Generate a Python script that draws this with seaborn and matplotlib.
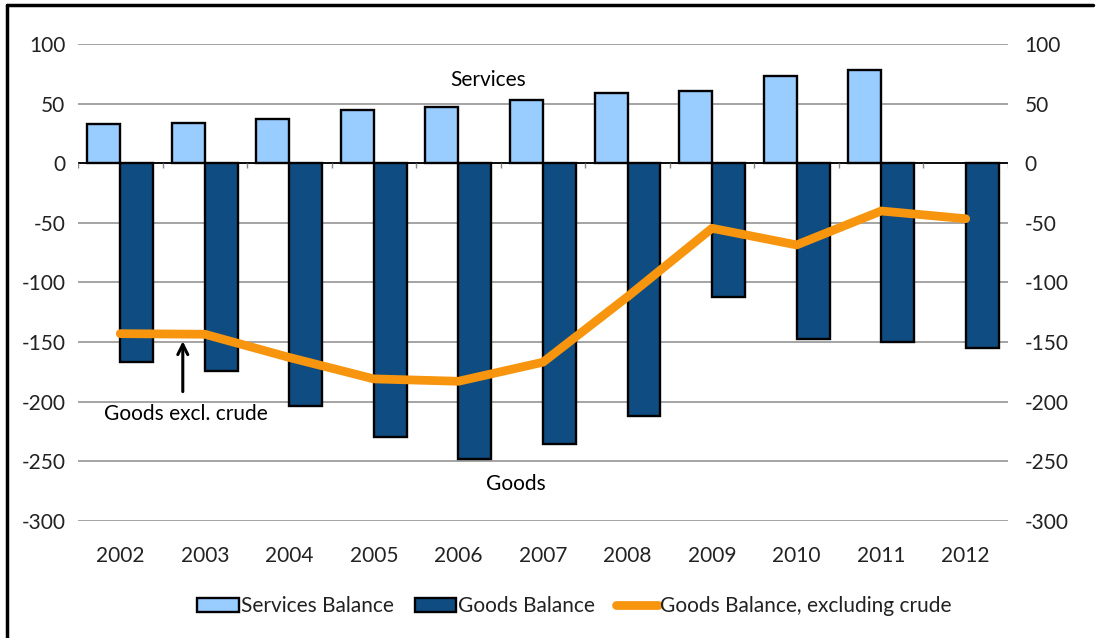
import numpy as np
import pandas as pd
import matplotlib
matplotlib.use("Agg")
import matplotlib.pyplot as plt
from matplotlib.patches import Patch
from matplotlib.lines import Line2D
import seaborn as sns

# data (USD bn)
years = ['2002', '2003', '2004', '2005', '2006', '2007', '2008', '2009', '2010', '2011', '2012']
services = [33, 34, 37, 44.5, 47, 53.5, 59, 61, 73, 78, np.nan]
goods = [-167, -174, -203.5, -230, -248, -236, -212, -112.5, -147.5, -150, -155]
goods_ex_crude = [-143, -143.5, -163, -181, -183, -167, -112, -54.5, -68.5, -40, -46.5]

colors = {
    'Services Balance': '#99CCFF',
    'Goods Balance': '#0F4C81',
    'line': '#F7950E',
}

sns.set_theme(style='white')
plt.rcParams['font.family'] = ['Lato', 'DejaVu Sans']
plt.rcParams['axes.unicode_minus'] = False

df = pd.DataFrame({
    'year': years * 2,
    'value': services + goods,
    'series': ['Services Balance'] * len(years) + ['Goods Balance'] * len(years),
}).dropna()

fig = plt.figure(figsize=(10.98, 6.38), dpi=100)
ax = fig.add_axes([0.071, 0.184, 0.847, 0.7466])

sns.barplot(data=df, x='year', y='value', hue='series', order=years,
            hue_order=['Services Balance', 'Goods Balance'],
            palette=colors, saturation=1, width=0.78, edgecolor='black',
            linewidth=1.7, legend=False, ax=ax, zorder=3)

xpos = np.arange(len(years))
sns.lineplot(x=xpos, y=goods_ex_crude, color=colors['line'], linewidth=6.3,
             solid_capstyle='round', solid_joinstyle='round', ax=ax, zorder=4)

yticks = np.arange(-300, 101, 50)
ax.set_ylim(-300, 100)
ax.set_xlim(-0.5, len(years) - 0.5)
ax.set_yticks(yticks)
ax.yaxis.grid(True, color='#8c8c8c', linewidth=1.1)
ax.set_axisbelow(True)
ax.axhline(0, color='black', linewidth=1.3, zorder=2)
# small excel-style ticks on the zero line between categories
ax.vlines(np.arange(len(years) + 1) - 0.5, -4, 0, color='#888888', linewidth=1, zorder=2)
ax.set_xlabel('')
ax.set_ylabel('')

# right-hand copy of the value axis
ax2 = ax.twinx()
ax2.set_ylim(-300, 100)
ax2.set_yticks(yticks)
ax2.grid(False)

for a in (ax, ax2):
    for s in a.spines.values():
        s.set_visible(False)
# twinx resets the left ticks, so style both axes afterwards
ax.tick_params(axis='y', left=False, right=False, labelsize=15, colors='#222222', pad=3)
ax.tick_params(axis='x', bottom=False, labelsize=15, colors='#222222', pad=12)
ax2.tick_params(axis='y', left=False, right=False, labelsize=15, colors='#222222', pad=6)

# annotations
ax.text(4.35, 70, 'Services', fontsize=15, ha='center', va='center', color='black')
ax.text(4.68, -269, 'Goods', fontsize=15, ha='center', va='center', color='black')
ax.text(0.78, -210.5, 'Goods excl. crude', fontsize=15, ha='center', va='center', color='black')
ax.annotate('', xy=(0.74, -147), xytext=(0.74, -194),
            arrowprops=dict(arrowstyle='->', color='black', lw=2.2, mutation_scale=18))

handles = [
    Patch(facecolor=colors['Services Balance'], edgecolor='black', linewidth=1.7, label='Services Balance'),
    Patch(facecolor=colors['Goods Balance'], edgecolor='black', linewidth=1.7, label='Goods Balance'),
    Line2D([0], [0], color=colors['line'], linewidth=6.3, solid_capstyle='round',
           label='Goods Balance, excluding crude'),
]
fig.legend(handles=handles, loc='center', bbox_to_anchor=(0.523, 0.05), ncol=3,
           frameon=False, fontsize=15, handlelength=2.0, handleheight=0.7,
           handletextpad=0.1, columnspacing=1.0, labelcolor='#222222')

# chart frame (left and top edges visible)
fig.add_artist(Line2D([0.0065, 0.0065], [0, 0.992], color='black', linewidth=2.5,
                      transform=fig.transFigure))
fig.add_artist(Line2D([0.0065, 0.995], [0.992, 0.992], color='black', linewidth=2.5,
                      transform=fig.transFigure))

fig.savefig('out.png', dpi=100)
